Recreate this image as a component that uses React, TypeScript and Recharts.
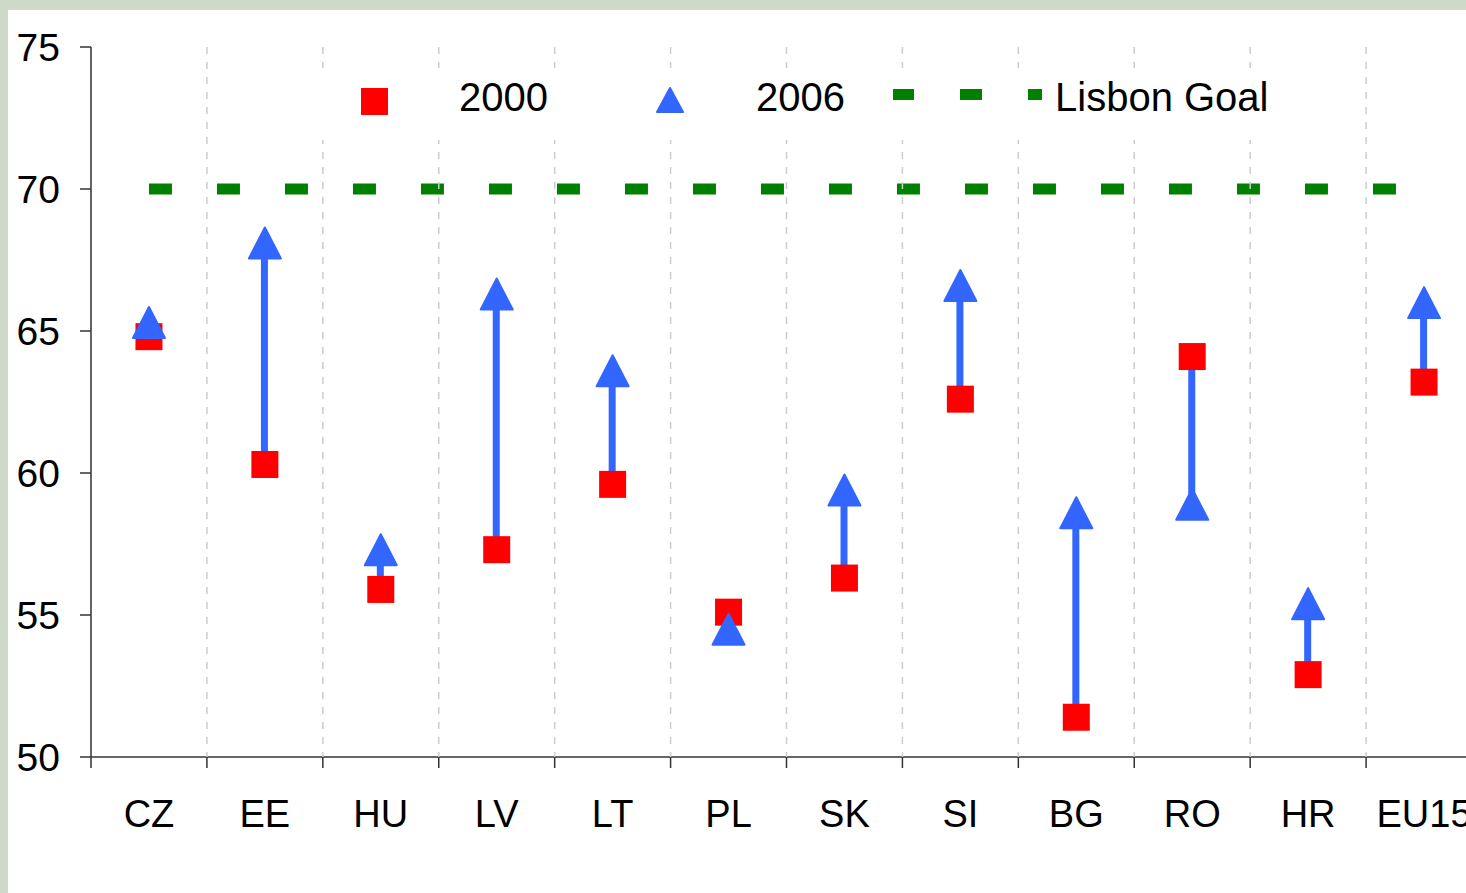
import {
  ComposedChart,
  Bar,
  Line,
  Scatter,
  XAxis,
  YAxis,
  Legend,
} from 'recharts';

const categories = ['CZ', 'EE', 'HU', 'LV', 'LT', 'PL', 'SK', 'SI', 'BG', 'RO', 'HR', 'EU15'];
const rate2000 = [64.8, 60.3, 55.9, 57.3, 59.6, 55.1, 56.3, 62.6, 51.4, 64.1, 52.9, 63.2];
const rate2006 = [65.3, 68.1, 57.3, 66.3, 63.6, 54.5, 59.4, 66.6, 58.6, 58.9, 55.4, 66.0];
const lisbonGoal = 70;
const yTicks = [50, 55, 60, 65, 70, 75];

const data = categories.map((name, i) => ({
  name,
  y2000: rate2000[i],
  y2006: rate2006[i],
  lisbon: lisbonGoal,
}));

const CHART_W = 1500;
const CHART_H = 893;
const MARGIN = { top: 47, right: 18, bottom: 56, left: 0 };
const YAXIS_W = 91;
const XAXIS_H = 80;
const PLOT_W = CHART_W - MARGIN.left - MARGIN.right - YAXIS_W;
const PLOT_H = CHART_H - MARGIN.top - MARGIN.bottom - XAXIS_H;
const BAND = PLOT_W / categories.length;

const RED = '#FF0000';
const BLUE = '#3366FF';
const GREEN = '#008000';
const FONT = '"Liberation Sans", Arial, sans-serif';

function Square(props: any) {
  const { cx, cy } = props;
  if (cx == null || cy == null) return null;
  return <rect x={cx - 13.5} y={cy - 13.5} width={27} height={27} fill={RED} />;
}

function Triangle(props: any) {
  const { cx, cy } = props;
  if (cx == null || cy == null) return null;
  const w = 32;
  const h = 31;
  return (
    <path
      d={`M${cx},${cy - h / 2} L${cx + w / 2},${cy + h / 2} L${cx - w / 2},${cy + h / 2} Z`}
      fill={BLUE}
      stroke={BLUE}
      strokeWidth={2}
      strokeLinejoin="round"
    />
  );
}

function CategoryTick(props: any) {
  const { x, y, payload, index } = props;
  const left = x - BAND / 2;
  return (
    <g>
      {index > 0 && (
        <line
          x1={left}
          x2={left}
          y1={y - PLOT_H}
          y2={y}
          stroke="#cccccc"
          strokeWidth={1.5}
          strokeDasharray="7 8"
        />
      )}
      <line x1={left} x2={left} y1={y} y2={y + 11} stroke="#333" strokeWidth={1.5} />
      <text x={x} y={y + 43} dy="0.71em" textAnchor="middle" fontSize={38} fill="#000" fontFamily={FONT}>
        {payload.value}
      </text>
    </g>
  );
}

function LegendBox() {
  return (
    <svg width={980} height={72} style={{ display: 'block' }}>
      <rect x={51} y={20} width={27} height={27} fill={RED} />
      <text x={149} y={43} fontSize={40} fontFamily={FONT} fill="#000">2000</text>
      <path
        d="M360,20 L373,44 L347,44 Z"
        fill={BLUE}
        stroke={BLUE}
        strokeWidth={2}
        strokeLinejoin="round"
      />
      <text x={446} y={43} fontSize={40} fontFamily={FONT} fill="#000">2006</text>
      <rect x={583} y={21} width={21} height={11} fill={GREEN} />
      <rect x={650} y={21} width={22} height={11} fill={GREEN} />
      <rect x={718} y={21} width={14} height={11} fill={GREEN} />
      <text x={745} y={43} fontSize={40} fontFamily={FONT} fill="#000">Lisbon Goal</text>
    </svg>
  );
}

export default function App() {
  return (
    <div
      style={{
        position: 'fixed',
        left: 0,
        top: 0,
        width: 1466,
        height: 893,
        overflow: 'hidden',
        background: '#cfd9c8',
        fontFamily: FONT,
      }}
    >
      <div
        style={{
          position: 'absolute',
          left: 8,
          top: 10,
          width: 1600,
          height: 1000,
          background: '#ffffff',
        }}
      />
      <div style={{ position: 'absolute', left: 0, top: 0 }}>
        <ComposedChart width={CHART_W} height={CHART_H} data={data} margin={MARGIN}>
          <XAxis
            dataKey="name"
            height={XAXIS_H}
            interval={0}
            tickSize={0}
            tickMargin={0}
            tickLine={false}
            axisLine={{ stroke: '#333', strokeWidth: 1.5 }}
            tick={<CategoryTick />}
          />
          <YAxis
            domain={[50, 75]}
            ticks={yTicks}
            allowDataOverflow
            width={YAXIS_W}
            tickSize={11}
            tickMargin={20}
            axisLine={{ stroke: '#333', strokeWidth: 1.5 }}
            tickLine={{ stroke: '#333', strokeWidth: 1.5 }}
            tick={{ fill: '#000', fontSize: 39, fontFamily: FONT }}
          />
          <Legend
            verticalAlign="middle"
            align="center"
            layout="horizontal"
            content={() => <LegendBox />}
            wrapperStyle={{
              position: 'absolute',
              left: 310,
              top: 68,
              width: 980,
              height: 72,
              background: '#ffffff',
            }}
          />
          <Bar
            dataKey={(d: any) => [Math.min(d.y2000, d.y2006), Math.max(d.y2000, d.y2006)]}
            barSize={7}
            fill={BLUE}
            isAnimationActive={false}
            legendType="none"
          />
          <Line
            dataKey="lisbon"
            stroke={GREEN}
            strokeWidth={11}
            strokeDasharray="23 45"
            strokeLinecap="butt"
            dot={false}
            activeDot={false}
            isAnimationActive={false}
          />
          <Scatter dataKey="y2000" shape={<Square />} isAnimationActive={false} />
          <Scatter dataKey="y2006" shape={<Triangle />} isAnimationActive={false} />
        </ComposedChart>
      </div>
    </div>
  );
}
